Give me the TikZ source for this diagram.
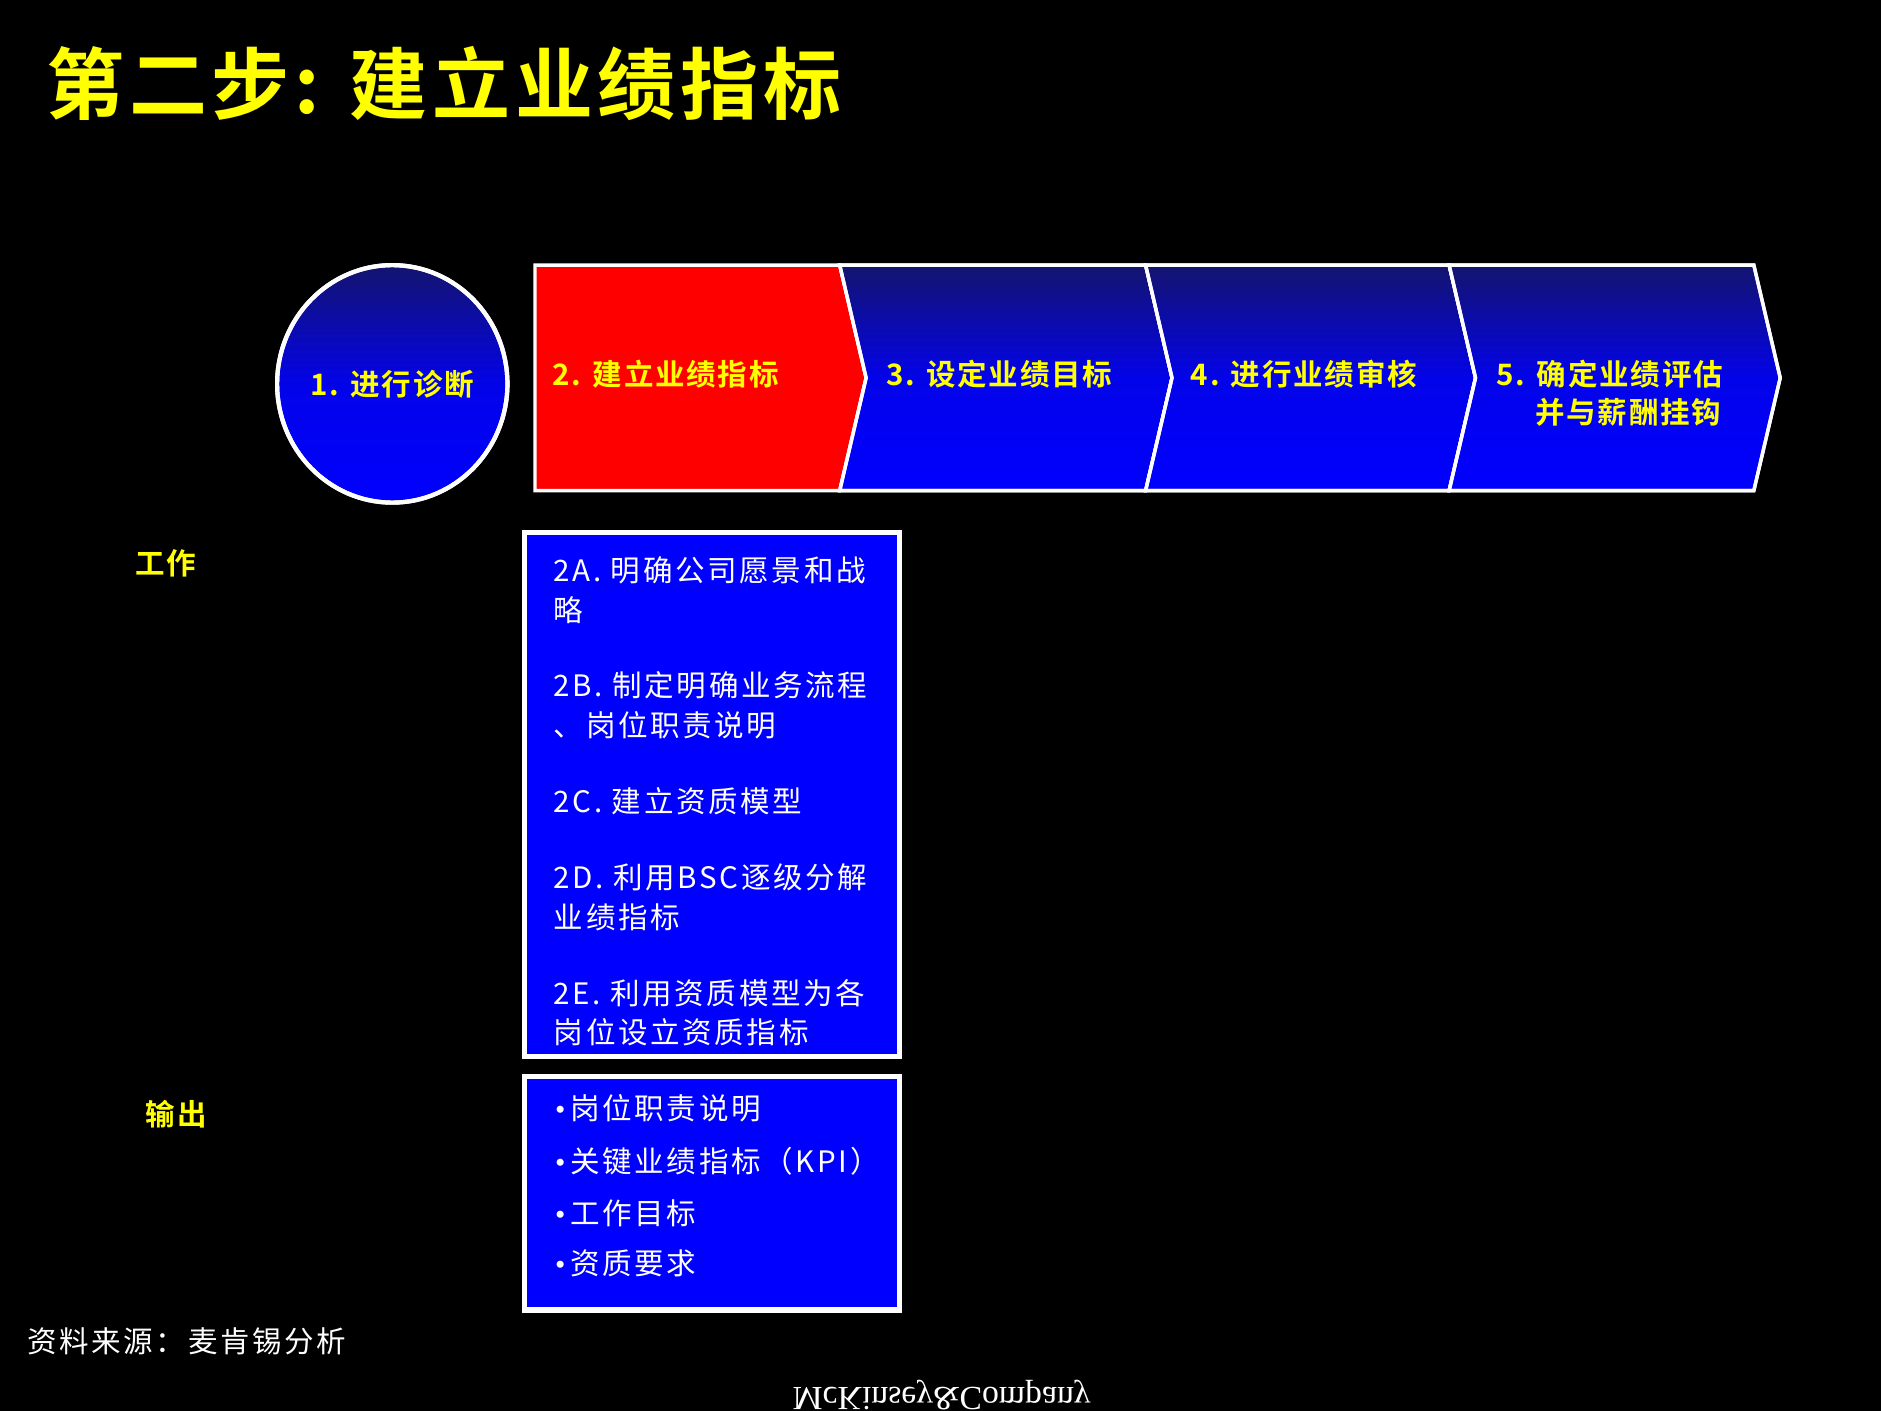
\documentclass[tikz,border=0pt]{standalone}
\usepackage{fontspec}
\setmainfont{Liberation Serif}
\newfontfamily\cjk[LetterSpace=9]{Noto Sans CJK SC}
\newfontfamily\cjkb[LetterSpace=6]{Noto Sans CJK SC Bold}
\definecolor{ylw}{RGB}{255,255,0}
\definecolor{navy}{RGB}{20,20,110}
\definecolor{bblue}{RGB}{0,0,255}
\tikzset{
 chev/.style={draw=white,line width=0.8pt,top color=navy,bottom color=bblue,middle color=bblue!85!navy},
 ctext/.style={text=ylw,font=\cjkb\fontsize{7}{9}\selectfont,anchor=west,align=left,inner sep=0pt},
 wtext/.style={text=white,font=\cjk\fontsize{7}{9.3}\selectfont,anchor=west,align=left,inner sep=0pt},
 box/.style={draw=white,line width=1.2pt,fill=bblue}
}
\begin{document}
\begin{tikzpicture}[x=0.01cm,y=-0.01cm]
\fill[black] (0,0) rectangle (1568,1176);
\useasboundingbox (0,0) rectangle (1568,1176);
\node[text=ylw,font=\cjkb\fontsize{18.5}{20}\selectfont,anchor=west,inner sep=0pt] (title) at (38,70) {第二步: 建立业绩指标};
\shade[top color=navy,bottom color=bblue,middle color=bblue!85!navy,draw=white,line width=1pt] (327,320) ellipse (96 and 99);
\draw[white,line width=1pt] (327,320) ellipse (96 and 99);
\node[ctext] (c1) at (258,320) {1. 进行诊断};
\fill[red,draw=white,line width=0.8pt] (446,221) -- (700,221) -- (722,315) -- (700,409) -- (446,409) -- cycle;
\shade[chev] (700,221) -- (955,221) -- (977,315) -- (955,409) -- (700,409) -- (722,315) -- cycle;
\draw[white,line width=0.8pt] (700,221) -- (955,221) -- (977,315) -- (955,409) -- (700,409) -- (722,315) -- cycle;
\shade[chev] (955,221) -- (1208,221) -- (1230,315) -- (1208,409) -- (955,409) -- (977,315) -- cycle;
\draw[white,line width=0.8pt] (955,221) -- (1208,221) -- (1230,315) -- (1208,409) -- (955,409) -- (977,315) -- cycle;
\shade[chev] (1208,221) -- (1462,221) -- (1484,315) -- (1462,409) -- (1208,409) -- (1230,315) -- cycle;
\draw[white,line width=0.8pt] (1208,221) -- (1462,221) -- (1484,315) -- (1462,409) -- (1208,409) -- (1230,315) -- cycle;
\node[ctext] (s2) at (460,312) {2. 建立业绩指标};
\node[ctext] (s3) at (738,312) {3. 设定业绩目标};
\node[ctext] (s4) at (992,312) {4. 进行业绩审核};
\node[ctext] (s5) at (1247,312) {5. 确定业绩评估};
\node[ctext] (s5b) at (1279,344) {并与薪酬挂钩};
\node[ctext] (work) at (112,470) {工作};
\node[ctext] (out) at (121,929) {输出};
\draw[box] (437,444) rectangle (750,881);
\node[wtext] (a) at (461,492) {2A. 明确公司愿景和战\\略};
\node[wtext] (b) at (461,588) {2B. 制定明确业务流程\\、岗位职责说明};
\node[wtext] (c) at (461,668) {2C. 建立资质模型};
\node[wtext] (d) at (461,748) {2D. 利用BSC逐级分解\\业绩指标};
\node[wtext] (e) at (461,844) {2E. 利用资质模型为各\\岗位设立资质指标};
\draw[box] (437,897) rectangle (750,1092);
\node[wtext] (o1) at (462,924) {{\rmfamily•}\,岗位职责说明};
\node[wtext] (o2) at (462,968) {{\rmfamily•}\,关键业绩指标（KPI）};
\node[wtext] (o3) at (462,1011) {{\rmfamily•}\,工作目标};
\node[wtext] (o4) at (462,1053) {{\rmfamily•}\,资质要求};
\node[wtext] (src) at (22,1118) {资料来源：麦肯锡分析};
\node[text=white,font=\fontsize{8}{9}\selectfont,yscale=-1] (mck) at (785,1163) {McKinsey\&Company};
\end{tikzpicture}
\end{document}
